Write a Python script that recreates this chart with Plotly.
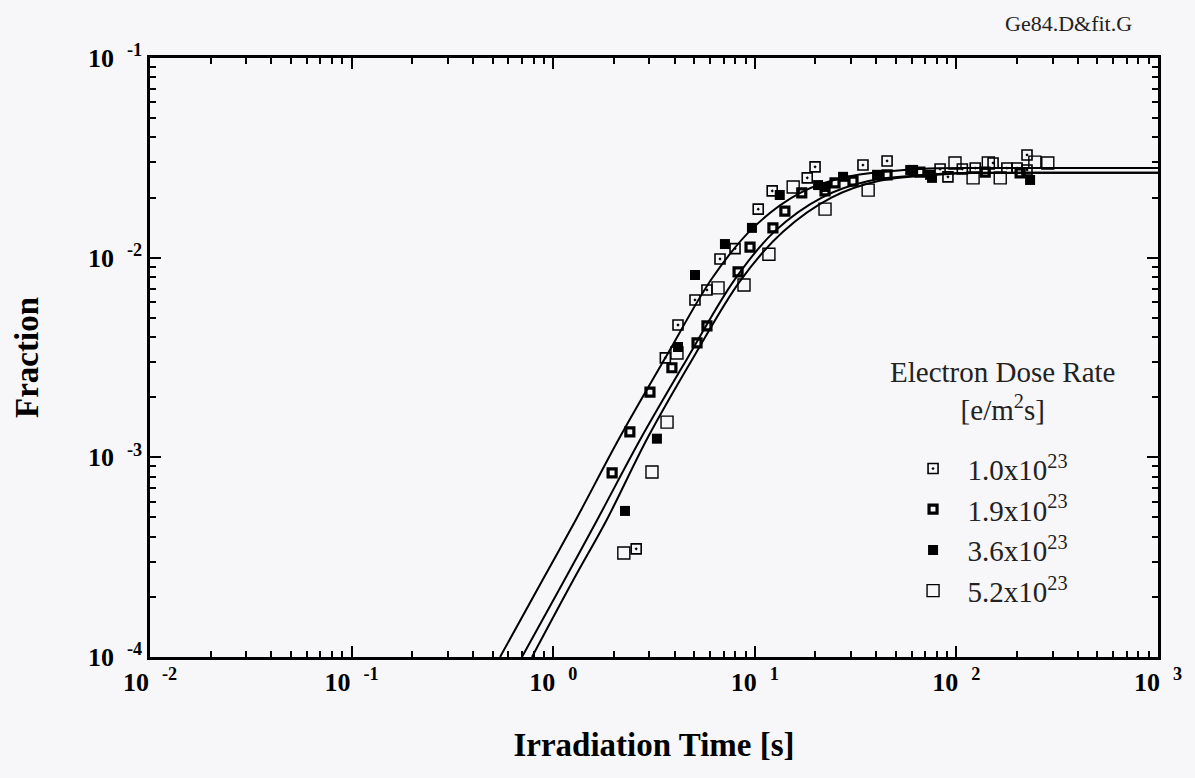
import plotly.graph_objects as go

# ---- data ----
t_10 = [2.58, 3.60, 4.16, 5.05, 5.79, 6.72, 7.98, 10.4, 12.2, 18.2, 19.9, 34.4, 45.3,
        83.0, 90.8, 107, 124, 152, 178, 200, 224, 224]
f_10 = [3.48e-4, 3.15e-3, 4.60e-3, 6.14e-3, 6.89e-3, 9.85e-3, 1.11e-2, 1.75e-2, 2.16e-2,
        2.51e-2, 2.85e-2, 2.91e-2, 3.05e-2, 2.78e-2, 2.54e-2, 2.78e-2, 2.81e-2, 2.98e-2,
        2.81e-2, 2.81e-2, 2.75e-2, 3.27e-2]

t_19 = [1.96, 2.40, 3.02, 3.88, 5.17, 5.79, 8.26, 9.47, 12.3, 14.1, 17.1, 22.3, 25.0,
        30.7, 45.3, 65.9, 139, 207]
f_19 = [8.35e-4, 1.34e-3, 2.12e-3, 2.81e-3, 3.74e-3, 4.55e-3, 8.48e-3, 1.13e-2, 1.41e-2,
        1.71e-2, 2.11e-2, 2.16e-2, 2.37e-2, 2.42e-2, 2.60e-2, 2.68e-2, 2.68e-2, 2.66e-2]

t_36 = [2.27, 3.27, 4.16, 5.05, 7.11, 9.68, 13.3, 20.6, 22.3, 27.4, 40.4, 59.0, 61.0,
        74.0, 75.7, 232]
f_36 = [5.39e-4, 1.24e-3, 3.57e-3, 8.19e-3, 1.17e-2, 1.41e-2, 2.06e-2, 2.31e-2, 2.26e-2,
        2.54e-2, 2.60e-2, 2.75e-2, 2.75e-2, 2.60e-2, 2.51e-2, 2.45e-2]

t_52 = [2.24, 3.09, 3.67, 4.11, 6.57, 8.84, 11.75, 15.5, 22.3, 36.5, 98.4, 121, 144,
        165, 245, 284]
f_52 = [3.32e-4, 8.45e-4, 1.50e-3, 3.33e-3, 7.06e-3, 7.30e-3, 1.04e-2, 2.26e-2, 1.75e-2,
        2.18e-2, 2.98e-2, 2.51e-2, 2.98e-2, 2.51e-2, 3.01e-2, 2.98e-2]

# fitted curves
fitA_t = [0.545, 0.88, 1.3, 2.14, 3.6, 6.2, 9.8, 16.8, 28.7, 66, 150, 1000]
fitA_f = [1.0e-4, 2.4e-4, 4.9e-4, 1.26e-3, 3.15e-3, 8.0e-3, 1.41e-2, 2.11e-2, 2.54e-2,
          2.78e-2, 2.81e-2, 2.81e-2]
fitB_t = [0.70, 1.13, 1.66, 2.74, 4.6, 7.9, 12.5, 21.5, 36.7, 84, 190, 1000]
fitB_f = [1.0e-4, 2.4e-4, 4.9e-4, 1.26e-3, 3.1e-3, 7.7e-3, 1.35e-2, 2.0e-2, 2.42e-2,
          2.63e-2, 2.66e-2, 2.66e-2]
fitC_t = [0.785, 1.25, 1.85, 2.95, 4.9, 8.5, 13.8, 24.0, 41.0, 95, 216, 1000]
fitC_f = [1.0e-4, 2.4e-4, 4.9e-4, 1.26e-3, 3.1e-3, 7.7e-3, 1.35e-2, 2.0e-2, 2.42e-2,
          2.63e-2, 2.66e-2, 2.66e-2]

series_names = ["1.0x10<sup>23</sup>", "1.9x10<sup>23</sup>", "3.6x10<sup>23</sup>", "5.2x10<sup>23</sup>"]

x_tickvals = [1e-2, 1e-1, 1e0, 1e1, 1e2, 1e3]
x_exponents = ["-2", "-1", "0", "1", "2", "3"]
y_tickvals = [1e-4, 1e-3, 1e-2, 1e-1]
y_exponents = ["-4", "-3", "-2", "-1"]

NB = "\u00a0"
x_ticktext = ["10" + NB * 2 + "<sup>" + e + "</sup>" for e in x_exponents]
y_ticktext = ["10" + NB * 2 + "<sup>" + e + "</sup>" for e in y_exponents]

SERIF = "Liberation Serif, Times New Roman, serif"
BG = "#f7f6f8"
INK = "black"

fig = go.Figure()

for tt, ff in [(fitA_t, fitA_f), (fitB_t, fitB_f), (fitC_t, fitC_f)]:
    fig.add_trace(go.Scatter(x=tt, y=ff, mode="lines", showlegend=False,
                             line=dict(color=INK, width=2, shape="spline", smoothing=1.0),
                             hoverinfo="skip"))

pad = NB * 2
fig.add_trace(go.Scatter(x=t_10, y=f_10, mode="markers", name=pad + series_names[0],
                         marker=dict(symbol="square-open-dot", size=10, color=INK,
                                     line=dict(color=INK, width=1.6))))
fig.add_trace(go.Scatter(x=t_19, y=f_19, mode="markers", name=pad + series_names[1],
                         marker=dict(symbol="square-open", size=8, color=INK,
                                     line=dict(color=INK, width=3.2))))
fig.add_trace(go.Scatter(x=t_36, y=f_36, mode="markers", name=pad + series_names[2],
                         marker=dict(symbol="square", size=10, color=INK,
                                     line=dict(color=INK, width=0))))
fig.add_trace(go.Scatter(x=t_52, y=f_52, mode="markers", name=pad + series_names[3],
                         marker=dict(symbol="square-open", size=12, color=INK,
                                     line=dict(color=INK, width=1.4))))

x_minor = [k * 10.0 ** e for e in range(-2, 3) for k in range(2, 10)]
y_minor = [k * 10.0 ** e for e in range(-4, -1) for k in range(2, 10)]

axis_common = dict(
    type="log", showgrid=False, zeroline=False,
    showline=True, linecolor=INK, linewidth=2.5, mirror="allticks",
    ticks="inside", ticklen=11, tickwidth=2, tickcolor=INK,
    tickmode="array",
    tickfont=dict(family=SERIF, size=26, color=INK, weight="bold"),
)

fig.update_xaxes(range=[-2, 3], tickvals=x_tickvals, ticktext=x_ticktext,
                 minor=dict(tickvals=x_minor, ticks="inside", ticklen=6, tickwidth=1.5,
                            tickcolor=INK, showgrid=False),
                 title=dict(text="Irradiation Time [s]",
                            font=dict(family=SERIF, size=33, color=INK, weight="bold"),
                            standoff=37),
                 **axis_common)
fig.update_yaxes(range=[-4, -1], tickvals=y_tickvals, ticktext=y_ticktext,
                 minor=dict(tickvals=y_minor, ticks="inside", ticklen=6, tickwidth=1.5,
                            tickcolor=INK, showgrid=False),
                 title=dict(text="Fraction",
                            font=dict(family=SERIF, size=33, color=INK, weight="bold"),
                            standoff=40),
                 **axis_common)

fig.update_layout(
    width=1195, height=778,
    margin=dict(l=150, r=37, t=58, b=121),
    paper_bgcolor=BG, plot_bgcolor=BG,
    font=dict(family=SERIF, color=INK),
    showlegend=True,
    legend=dict(x=0.757, y=0.357, xanchor="left", yanchor="top",
                bgcolor="rgba(0,0,0,0)", borderwidth=0,
                font=dict(family=SERIF, size=29, color="#222"),
                itemsizing="trace", tracegroupgap=0),
    annotations=[
        dict(text="Electron Dose Rate<br>[e/m<sup>2</sup>s]", xref="paper", yref="paper",
             x=0.846, y=0.444, xanchor="center", yanchor="middle", showarrow=False,
             align="center", font=dict(family=SERIF, size=29, color="#222")),
        dict(text="Ge84.D&fit.G", xref="paper", yref="paper",
             x=0.911, y=1.057, xanchor="center", yanchor="middle", showarrow=False,
             font=dict(family=SERIF, size=22, color="#222")),
    ],
)

fig.write_html("out.html")
